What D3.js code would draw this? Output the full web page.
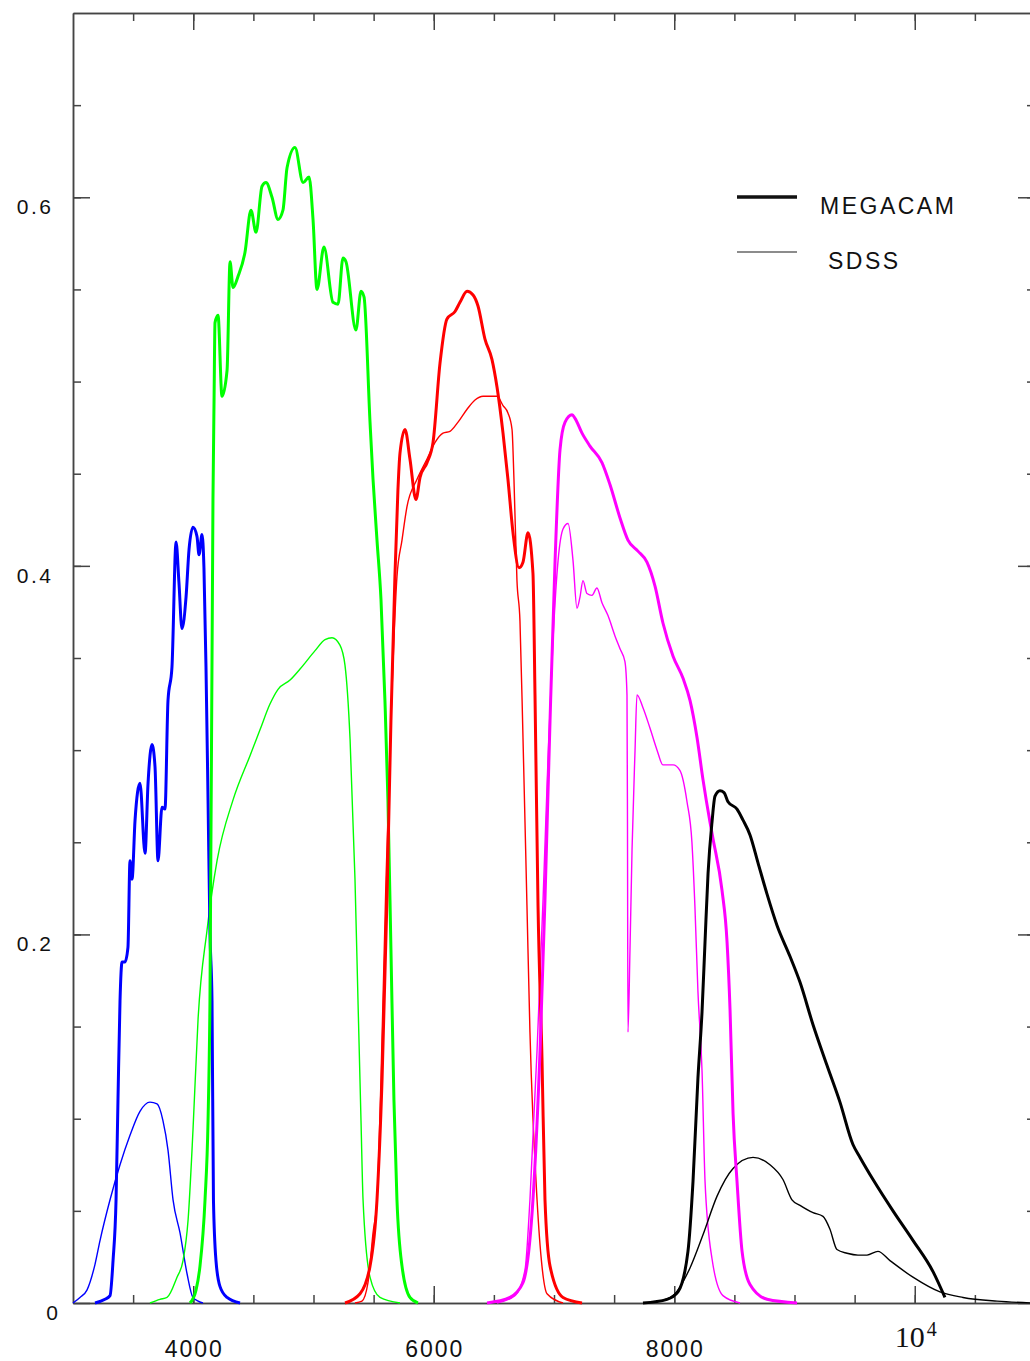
<!DOCTYPE html>
<html>
<head>
<meta charset="utf-8">
<script src="https://cdn.jsdelivr.net/npm/d3@7"></script>
<style>
  body { margin: 0; background: #fff; }
  text { font-family: "Liberation Sans", Arial, sans-serif; fill: #111; }
  .axis path, .axis line { stroke: #444; stroke-width: 1.5; }
</style>
</head>
<body>
<div id="canvas"></div>
<script>
// filter transmission curves, [wavelength (A), transmission]
var megaU = [[3183,0],[3266,0.002],[3308,0.004],[3333,0.023],[3358,0.056],[3374,0.11],[3391,0.164],[3408,0.185],[3432,0.185],[3457,0.193],[3474,0.240],[3491,0.230],[3516,0.262],[3557,0.282],[3599,0.244],[3624,0.282],[3657,0.303],[3682,0.291],[3707,0.240],[3740,0.269],[3765,0.268],[3790,0.327],[3823,0.345],[3857,0.413],[3881,0.391],[3906,0.366],[3940,0.383],[3965,0.409],[3998,0.421],[4031,0.416],[4048,0.406],[4073,0.417],[4089,0.399],[4106,0.345],[4123,0.273],[4139,0.201],[4156,0.164],[4168,0.056],[4189,0.023],[4222,0.009],[4281,0.003],[4389,0]];
var sdssU = [[3000,0],[3058,0.003],[3116,0.007],[3183,0.021],[3225,0.034],[3308,0.056],[3391,0.075],[3474,0.091],[3557,0.104],[3640,0.109],[3699,0.108],[3748,0.099],[3790,0.083],[3832,0.056],[3890,0.038],[3948,0.016],[3998,0.003],[4081,0]];
var megaG = [[3973,0],[4023,0.007],[4056,0.020],[4098,0.056],[4123,0.099],[4139,0.164],[4164,0.436],[4173,0.490],[4181,0.532],[4206,0.536],[4239,0.492],[4281,0.506],[4306,0.565],[4331,0.551],[4372,0.557],[4430,0.570],[4480,0.593],[4522,0.581],[4572,0.606],[4605,0.608],[4655,0.600],[4705,0.588],[4746,0.593],[4780,0.616],[4846,0.627],[4913,0.608],[4963,0.611],[4996,0.588],[5029,0.550],[5087,0.573],[5162,0.543],[5204,0.542],[5245,0.567],[5270,0.565],[5353,0.528],[5395,0.549],[5420,0.546],[5470,0.478],[5495,0.447],[5528,0.414],[5561,0.382],[5594,0.327],[5619,0.273],[5644,0.192],[5669,0.110],[5694,0.056],[5736,0.020],[5802,0.003],[5869,0]];
var sdssG = [[3640,0],[3723,0.002],[3782,0.003],[3865,0.014],[3915,0.023],[3957,0.045],[3998,0.094],[4040,0.154],[4114,0.202],[4198,0.240],[4331,0.273],[4472,0.297],[4555,0.311],[4638,0.325],[4705,0.333],[4805,0.338],[4888,0.344],[5013,0.354],[5096,0.360],[5154,0.361],[5220,0.357],[5262,0.346],[5304,0.306],[5345,0.230],[5370,0.164],[5395,0.099],[5412,0.056],[5470,0.014],[5553,0.003],[5719,0]];
var megaR = [[5262,0],[5387,0.005],[5470,0.020],[5528,0.056],[5570,0.121],[5611,0.219],[5644,0.316],[5677,0.394],[5702,0.441],[5719,0.461],[5761,0.474],[5802,0.458],[5852,0.436],[5886,0.448],[5944,0.456],[5994,0.467],[6052,0.510],[6110,0.534],[6177,0.538],[6218,0.543],[6277,0.549],[6327,0.547],[6368,0.541],[6426,0.523],[6484,0.512],[6526,0.497],[6576,0.472],[6617,0.447],[6659,0.418],[6709,0.399],[6742,0.402],[6784,0.418],[6825,0.396],[6842,0.330],[6867,0.216],[6900,0.133],[6925,0.056],[6967,0.020],[7075,0.003],[7233,0]];
var sdssR = [[5345,0],[5403,0.001],[5453,0.011],[5495,0.038],[5528,0.056],[5561,0.121],[5603,0.230],[5644,0.316],[5694,0.394],[5736,0.414],[5777,0.432],[5861,0.447],[5944,0.458],[6011,0.467],[6077,0.472],[6135,0.473],[6202,0.478],[6277,0.485],[6343,0.490],[6410,0.492],[6526,0.492],[6576,0.487],[6617,0.483],[6651,0.474],[6667,0.447],[6692,0.392],[6717,0.370],[6742,0.307],[6775,0.216],[6800,0.147],[6859,0.056],[6900,0.020],[6942,0.005],[7075,0]];
var megaI = [[6443,0],[6634,0.003],[6742,0.011],[6825,0.056],[6884,0.137],[6925,0.219],[6967,0.316],[7009,0.403],[7050,0.463],[7092,0.478],[7150,0.482],[7175,0.480],[7233,0.472],[7299,0.465],[7399,0.456],[7466,0.444],[7549,0.426],[7615,0.414],[7698,0.408],[7773,0.402],[7840,0.389],[7906,0.369],[7990,0.351],[8073,0.339],[8131,0.327],[8189,0.307],[8239,0.284],[8297,0.261],[8322,0.252],[8397,0.224],[8439,0.196],[8464,0.159],[8489,0.103],[8522,0.066],[8564,0.028],[8630,0.010],[8772,0.002],[9021,0]];
var sdssI = [[6526,0],[6675,0.004],[6759,0.018],[6800,0.056],[6859,0.137],[6909,0.219],[6950,0.295],[6992,0.360],[7034,0.403],[7075,0.420],[7117,0.423],[7158,0.403],[7191,0.377],[7216,0.383],[7241,0.392],[7274,0.385],[7316,0.384],[7357,0.388],[7399,0.380],[7449,0.373],[7507,0.362],[7549,0.355],[7590,0.348],[7607,0.330],[7611,0.261],[7615,0.147],[7632,0.192],[7649,0.246],[7674,0.300],[7690,0.330],[7740,0.323],[7798,0.312],[7857,0.300],[7906,0.292],[7990,0.292],[8047,0.289],[8106,0.272],[8147,0.250],[8172,0.215],[8197,0.169],[8231,0.126],[8256,0.066],[8314,0.024],[8405,0.004],[8547,0]];
var megaZ = [[7740,0],[7940,0.002],[8031,0.006],[8114,0.028],[8156,0.066],[8197,0.122],[8231,0.158],[8256,0.196],[8281,0.233],[8314,0.261],[8339,0.275],[8380,0.278],[8414,0.277],[8447,0.272],[8522,0.268],[8572,0.262],[8630,0.254],[8696,0.239],[8771,0.222],[8854,0.205],[8963,0.188],[9046,0.174],[9154,0.151],[9270,0.129],[9378,0.109],[9486,0.086],[9545,0.079],[9653,0.067],[9819,0.050],[9985,0.034],[10152,0.017],[10251,0.003]];
var sdssZ = [[7740,0],[7881,0.001],[7990,0.004],[8131,0.019],[8239,0.037],[8356,0.058],[8489,0.073],[8655,0.079],[8796,0.075],[8904,0.067],[8979,0.056],[9046,0.053],[9154,0.049],[9237,0.047],[9295,0.040],[9353,0.029],[9437,0.027],[9528,0.026],[9603,0.026],[9694,0.028],[9794,0.023],[9985,0.014],[10210,0.006],[10401,0.003],[10684,0.001],[11000,0]];

var filterColors = ['#0000ff','#00ff00','#ff0000','#ff00ff','#000000'];
var megaSeries = [megaU, megaG, megaR, megaI, megaZ];
var sdssSeries = [sdssU, sdssG, sdssR, sdssI, sdssZ];

var xMajor = [4000, 6000, 8000, 10000];
var xMinor = d3.range(3500, 11000, 500);
var yMajor = [0, 0.2, 0.4, 0.6];
var yMinor = d3.range(0.05, 0.7, 0.05);
var yLabels = ['0', '0.2', '0.4', '0.6'];
var legendNames = ['MEGACAM', 'SDSS'];

var W = 1030, H = 1361;
var svg = d3.select('#canvas').append('svg')
    .attr('width', W).attr('height', H);

var x = d3.scaleLinear().domain([3000, 11000]).range([73, 1035]);
var y = d3.scaleLinear().domain([0, 0.7]).range([1303, 13]);

//axes: minor then major ticks, all pointing inside the box
function addAxis(axisFn, scale, vals, size, tr){
    svg.append('g').attr('class','axis')
        .attr('transform', tr)
        .call(axisFn(scale).tickValues(vals).tickSize(-size).tickSizeOuter(0).tickFormat(''));
}
addAxis(d3.axisBottom, x, xMinor, 8, 'translate(0,1303)');
addAxis(d3.axisBottom, x, xMajor, 17, 'translate(0,1303)');
addAxis(d3.axisTop, x, xMinor, 8, 'translate(0,13)');
addAxis(d3.axisTop, x, xMajor, 17, 'translate(0,13)');
addAxis(d3.axisLeft, y, yMinor, 8, 'translate(73,0)');
addAxis(d3.axisLeft, y, yMajor, 17, 'translate(73,0)');
addAxis(d3.axisRight, y, yMinor, 8, 'translate(1035,0)');
addAxis(d3.axisRight, y, yMajor, 17, 'translate(1035,0)');

//tick labels
svg.selectAll('.ylab').data(yMajor).enter().append('text')
    .attr('class','ylab')
    .attr('x', function(d){ return d === 0 ? 60.5 : 53.5; })
    .attr('y', function(d){ return y(d) + 17; })
    .attr('text-anchor','end')
    .style('font-size','21px')
    .style('letter-spacing','2.5px')
    .text(function(d,i){ return yLabels[i]; });

svg.selectAll('.xlab').data(xMajor.slice(0,3)).enter().append('text')
    .attr('class','xlab')
    .attr('x', function(d){ return x(d) + 1; })
    .attr('y', 1357)
    .attr('text-anchor','middle')
    .style('font-size','23px')
    .style('letter-spacing','2px')
    .text(function(d){ return d; });

var pow = svg.append('text')
    .attr('x', x(10000) - 20).attr('y', 1347)
    .style('font-family','"Liberation Serif", serif')
    .style('font-size','30px');
pow.append('tspan').text('10');
pow.append('tspan').attr('dx', 2).attr('dy', -11).style('font-size','20px').text('4');

//curves
var line = d3.line()
    .x(function(d){ return x(d[0]); })
    .y(function(d){ return y(d[1]); })
    .curve(d3.curveMonotoneX);

sdssSeries.forEach(function(s, i){
    svg.append('path').datum(s)
        .attr('d', line)
        .attr('fill','none')
        .attr('stroke', filterColors[i])
        .attr('stroke-width', 1.4)
        .attr('stroke-linejoin','round');
});
megaSeries.forEach(function(s, i){
    svg.append('path').datum(s)
        .attr('d', line)
        .attr('fill','none')
        .attr('stroke', filterColors[i])
        .attr('stroke-width', 3)
        .attr('stroke-linejoin','round');
});

//legend
var leg = svg.selectAll('.leg').data(legendNames).enter().append('g')
    .attr('class','leg')
    .attr('transform', function(d,i){ return 'translate(737,' + (197 + i*55) + ')'; });
leg.append('line')
    .attr('x1',0).attr('x2',60)
    .attr('stroke', function(d,i){ return i === 0 ? '#111' : '#666'; })
    .attr('stroke-width', function(d,i){ return i === 0 ? 3.5 : 1.5; });
leg.append('text')
    .attr('x', function(d,i){ return i === 0 ? 83 : 91; })
    .attr('y', 17)
    .style('font-size','23px')
    .style('letter-spacing','2.5px')
    .text(function(d){ return d; });
</script>
</body>
</html>
